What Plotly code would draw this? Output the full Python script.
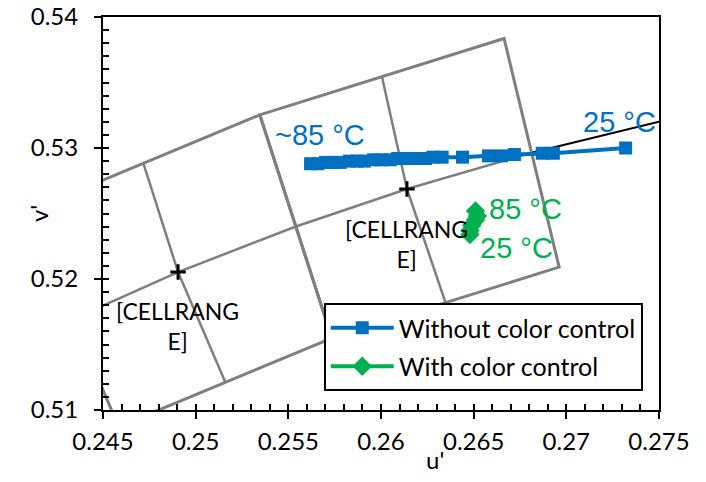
import plotly.graph_objects as go

# Axis ticks
u_ticks = [0.245, 0.25, 0.255, 0.26, 0.265, 0.27, 0.275]
u_tick_text = ["0.245", "0.25", "0.255", "0.26", "0.265", "0.27", "0.275"]
v_ticks = [0.51, 0.52, 0.53, 0.54]
v_tick_text = ["0.51", "0.52", "0.53", "0.54"]

# Chromaticity drift without color control (~85 °C at left, 25 °C at right)
u_without = [0.2562, 0.2566, 0.2570, 0.2574, 0.2578, 0.2583, 0.2587, 0.2591,
             0.2596, 0.2600, 0.2605, 0.2609, 0.2614, 0.2619, 0.2624, 0.2628,
             0.2633, 0.2644, 0.2658, 0.2665, 0.2672, 0.2687, 0.2693, 0.2732]
v_without = [0.5288, 0.5288, 0.5289, 0.5289, 0.5289, 0.5290, 0.5290, 0.5290,
             0.5291, 0.5291, 0.5291, 0.5292, 0.5292, 0.5292, 0.5292, 0.5293,
             0.5293, 0.5293, 0.5294, 0.5294, 0.5295, 0.5296, 0.5296, 0.5300]

# Chromaticity with color control (85 °C top, 25 °C bottom)
u_with = [0.2651, 0.2652, 0.2651, 0.2649, 0.2648, 0.2648]
v_with = [0.5252, 0.5248, 0.5245, 0.5241, 0.5237, 0.5234]

# ANSI quadrangles (u', v'): 3000 K and 2700 K outlines
q3000_u = [0.24090, 0.25346, 0.25735, 0.24584, 0.24090]
q3000_v = [0.52513, 0.53253, 0.51548, 0.50873, 0.52513]
q2700_u = [0.25346, 0.26664, 0.26961, 0.25735, 0.25346]
q2700_v = [0.53253, 0.53836, 0.52091, 0.51548, 0.53253]

# Sub-quadrangle dividers (side midpoint -> center -> side midpoint)
div_u = [0.24718, 0.24905, 0.25160, None, 0.24337, 0.24905, 0.25541, None,
         0.26005, 0.26140, 0.26348, None, 0.25541, 0.26140, 0.26813]
div_v = [0.52883, 0.52053, 0.51211, None, 0.51693, 0.52053, 0.52401, None,
         0.53545, 0.52687, 0.51820, None, 0.52401, 0.52687, 0.52964]

# Quadrangle centers
center_u = [0.24905, 0.26140]
center_v = [0.52053, 0.52687]

# Planckian locus segment
locus_u = [0.26813, 0.2750]
locus_v = [0.52964, 0.5320]

BLUE = "#0070C0"
GREEN = "#00B050"
GRAY = "#7F7F7F"
CAL = "Lato"
ARIAL = "Liberation Sans"

fig = go.Figure()

fig.add_trace(go.Scatter(x=locus_u, y=locus_v, mode="lines",
                         line=dict(color="black", width=2),
                         showlegend=False, hoverinfo="skip"))

for qu, qv in ((q3000_u, q3000_v), (q2700_u, q2700_v)):
    fig.add_trace(go.Scatter(x=qu, y=qv, mode="lines",
                             line=dict(color=GRAY, width=3),
                             showlegend=False, hoverinfo="skip"))

fig.add_trace(go.Scatter(x=div_u, y=div_v, mode="lines",
                         line=dict(color=GRAY, width=2.5),
                         showlegend=False, hoverinfo="skip"))

fig.add_trace(go.Scatter(x=center_u, y=center_v, mode="markers",
                         marker=dict(symbol="cross-thin", size=11,
                                     line=dict(color="black", width=3)),
                         showlegend=False, hoverinfo="skip"))

fig.add_trace(go.Scatter(x=u_without, y=v_without, mode="lines+markers",
                         name="Without color control", legendgroup="a",
                         line=dict(color=BLUE, width=4),
                         marker=dict(symbol="square", size=13, color=BLUE)))

fig.add_trace(go.Scatter(x=u_with, y=v_with, mode="lines+markers",
                         name="With color control", legendgroup="b",
                         line=dict(color=GREEN, width=4),
                         marker=dict(symbol="diamond", size=15, color=GREEN)))

# Empty trace carrying the inner minor-tick axes
fig.add_trace(go.Scatter(x=[None], y=[None], xaxis="x2", yaxis="y2",
                         showlegend=False, hoverinfo="skip"))

labels = [
    (0.25672, 0.53099, "~85 °C", BLUE),
    (0.27287, 0.53198, "25 °C", BLUE),
    (0.26780, 0.52534, "85 °C", GREEN),
    (0.26731, 0.52237, "25 °C", GREEN),
]
for x, y, t, c in labels:
    fig.add_annotation(x=x, y=y, text=t, showarrow=False,
                       xanchor="center", yanchor="middle",
                       font=dict(family=ARIAL, size=29, color=c))

for x, y in ((0.26139, 0.52270), (0.24900, 0.51640)):
    fig.add_annotation(x=x, y=y, text="[CELLRANG<br>E]", showarrow=False,
                       xanchor="center", yanchor="middle", align="center",
                       font=dict(family=CAL, size=23, color="black"))

# Axis titles
fig.add_annotation(x=0.598, y=-0.127, xref="paper", yref="paper", text="u'",
                   showarrow=False, xanchor="center", yanchor="middle",
                   font=dict(family=CAL, size=24, color="black"))
fig.add_annotation(x=-0.117, y=0.501, xref="paper", yref="paper", text="v'",
                   showarrow=False, xanchor="center", yanchor="middle",
                   textangle=-90, font=dict(family=CAL, size=24, color="black"))

axis_common = dict(showline=True, linecolor="black", linewidth=2, mirror=True,
                   showgrid=False, zeroline=False, ticks="outside",
                   ticklen=7, tickwidth=2, tickcolor="black", automargin=False,
                   tickfont=dict(family=CAL, size=24, color="black"))

fig.update_layout(
    width=706, height=482, autosize=False,
    margin=dict(l=103, r=47, t=17, b=72),
    paper_bgcolor="white", plot_bgcolor="white",
    xaxis=dict(range=[0.245, 0.275], tickvals=u_ticks, ticktext=u_tick_text,
               ticklabelstandoff=2, **axis_common),
    yaxis=dict(range=[0.51, 0.54], tickvals=v_ticks, ticktext=v_tick_text,
               ticklabelstandoff=11, **axis_common),
    xaxis2=dict(overlaying="x", anchor="y", side="bottom", range=[0.245, 0.275],
                tick0=0.245, dtick=0.001, ticks="inside", ticklen=6,
                tickwidth=2, tickcolor="black", showticklabels=False,
                showline=False, showgrid=False, zeroline=False),
    yaxis2=dict(overlaying="y", anchor="x", side="left", range=[0.51, 0.54],
                tick0=0.51, dtick=0.001, ticks="inside", ticklen=6,
                tickwidth=2, tickcolor="black", showticklabels=False,
                showline=False, showgrid=False, zeroline=False),
    legend=dict(x=0.397, y=0.272, xanchor="left", yanchor="top",
                bgcolor="white", bordercolor="black", borderwidth=2,
                font=dict(family=CAL, size=25, color="black"),
                traceorder="grouped", tracegroupgap=3, itemwidth=63),
    showlegend=True,
)

fig.write_html("out.html")
